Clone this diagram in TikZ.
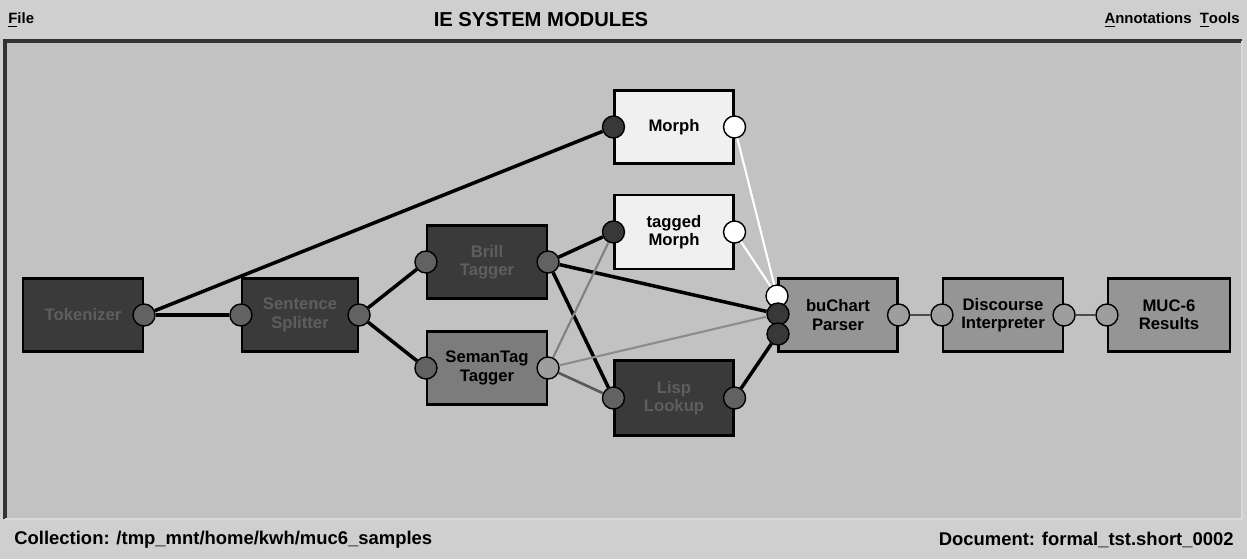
\documentclass[tikz,border=0pt]{standalone}
\usepackage{fontspec}
\setmainfont{Liberation Sans}

\definecolor{barbg}{HTML}{CFCFCF}
\definecolor{canvas}{HTML}{C2C2C2}
\definecolor{darkbox}{HTML}{3A3A3A}
\definecolor{darktext}{HTML}{5E5E5E}
\definecolor{midbox}{HTML}{7C7C7C}
\definecolor{lightbox}{HTML}{959595}
\definecolor{paperbox}{HTML}{F0F0F0}
\definecolor{portdark}{HTML}{383838}
\definecolor{portmid}{HTML}{626262}
\definecolor{portgray}{HTML}{9E9E9E}

\begin{document}
\begin{tikzpicture}[x=0.02cm, y=-0.02cm]
        \useasboundingbox (0,0) rectangle (1247,559);
        \fill[barbg] (0,0) rectangle (1247,559);
        \fill[canvas] (5,41) rectangle (1242,519);
        \draw[line width=2.5pt, black!80] (5,519) -- (5,41) -- (1242,41);
        \draw[line width=1pt, white!85!black] (1242,41) -- (1242,519) -- (5,519);
        % menu bar and status line
        \begin{scope}[every node/.style={inner sep=0pt, font=\fontsize{8.5}{8.5}\selectfont\bfseries}]
                \node[anchor=west] (menuFile) at (8,20) {\underline{F}ile};
                \node[font=\fontsize{11.5}{11.5}\selectfont\bfseries] (title) at (541,20) {IE SYSTEM MODULES};
                \node[anchor=east] (menuTools) at (1240,20) {\underline{T}ools};
                \node[anchor=east] (menuAnno) at (1192,20) {\underline{A}nnotations};
                \node[anchor=west, font=\fontsize{10.5}{10.5}\selectfont\bfseries] (collection) at (14,540) {Collection: /tmp\_mnt/home/kwh/muc6\_samples};
                \node[anchor=east, font=\fontsize{10.5}{10.5}\selectfont\bfseries] (document) at (1234,540) {Document: formal\_tst.short\_0002};
        \end{scope}
        % modules
        \begin{scope}[every node/.style={draw, line width=1.2pt, minimum width=2.4cm, minimum height=1.46cm, inner sep=1pt, align=center, font=\fontsize{9.5}{10.5}\selectfont\bfseries}]
                \node[fill=darkbox, text=darktext] (Tok) at (83,315) {Tokenizer};
                \node[fill=darkbox, text=darktext, minimum width=2.32cm] (Split) at (300,315) {Sentence\\Splitter};
                \node[fill=darkbox, text=darktext] (Brill) at (487,262) {Brill\\Tagger};
                \node[fill=midbox] (Seman) at (487,368) {SemanTag\\Tagger};
                \node[fill=paperbox, minimum width=2.38cm] (Morph) at (674,127) {Morph};
                \node[fill=paperbox, minimum width=2.38cm, minimum height=1.48cm] (TMorph) at (674,232) {tagged\\Morph};
                \node[fill=darkbox, text=darktext, minimum width=2.38cm, minimum height=1.5cm] (Lisp) at (674,398) {Lisp\\Lookup};
                \node[fill=lightbox, minimum width=2.38cm] (Parse) at (838,315) {buChart\\Parser};
                \node[fill=lightbox] (Disc) at (1003,315) {Discourse\\Interpreter};
                \node[fill=lightbox, minimum width=2.44cm] (Muc) at (1169,315) {MUC-6\\Results};
        \end{scope}
        % ports
        \begin{scope}[every node/.style={circle, draw, line width=0.8pt, minimum size=0.44cm, inner sep=0pt}]
                \node[fill=portmid] (TokOut) at (Tok.east) {};
                \node[fill=portmid] (SplitIn) at (Split.west) {};
                \node[fill=portmid] (SplitOut) at (Split.east) {};
                \node[fill=portmid] (BrillIn) at (Brill.west) {};
                \node[fill=portmid] (BrillOut) at (Brill.east) {};
                \node[fill=portmid] (SemanIn) at (Seman.west) {};
                \node[fill=portgray] (SemanOut) at (Seman.east) {};
                \node[fill=portdark] (MorphIn) at (Morph.west) {};
                \node[fill=white] (MorphOut) at (Morph.east) {};
                \node[fill=portdark] (TMorphIn) at (TMorph.west) {};
                \node[fill=white] (TMorphOut) at (TMorph.east) {};
                \node[fill=portmid] (LispIn) at (Lisp.west) {};
                \node[fill=portmid] (LispOut) at (Lisp.east) {};
                \node[fill=white] (ParseW) at (777,296) {};
                \node[fill=portdark] (ParseA) at (778,314) {};
                \node[fill=portdark] (ParseB) at (778,334) {};
                \node[fill=portgray] (ParseOut) at (Parse.east) {};
                \node[fill=portgray] (DiscIn) at (Disc.west) {};
                \node[fill=portgray] (DiscOut) at (Disc.east) {};
                \node[fill=portgray] (MucIn) at (Muc.west) {};
        \end{scope}
        % connections
        \begin{scope}[every path/.style={line width=2pt, black}]
                \path (TokOut) edge (SplitIn);
                \path (TokOut) edge (MorphIn);
                \path (SplitOut) edge (BrillIn);
                \path (SplitOut) edge (SemanIn);
                \path (BrillOut) edge (TMorphIn);
                \path (BrillOut) edge (ParseA);
                \path (BrillOut) edge (LispIn);
                \path (LispOut) edge (ParseB);
                \path (SemanOut) edge [line width=1.2pt, black!50] (TMorphIn);
                \path (SemanOut) edge [line width=1.2pt, black!45] (ParseA);
                \path (SemanOut) edge [line width=1.5pt, black!65] (LispIn);
                \path (MorphOut) edge [line width=1.2pt, white] (ParseW);
                \path (TMorphOut) edge [line width=1.2pt, white] (ParseW);
                \path (ParseOut) edge [line width=1.2pt, black!70] (DiscIn);
                \path (DiscOut) edge [line width=1.2pt, black!70] (MucIn);
        \end{scope}
\end{tikzpicture}
\end{document}
